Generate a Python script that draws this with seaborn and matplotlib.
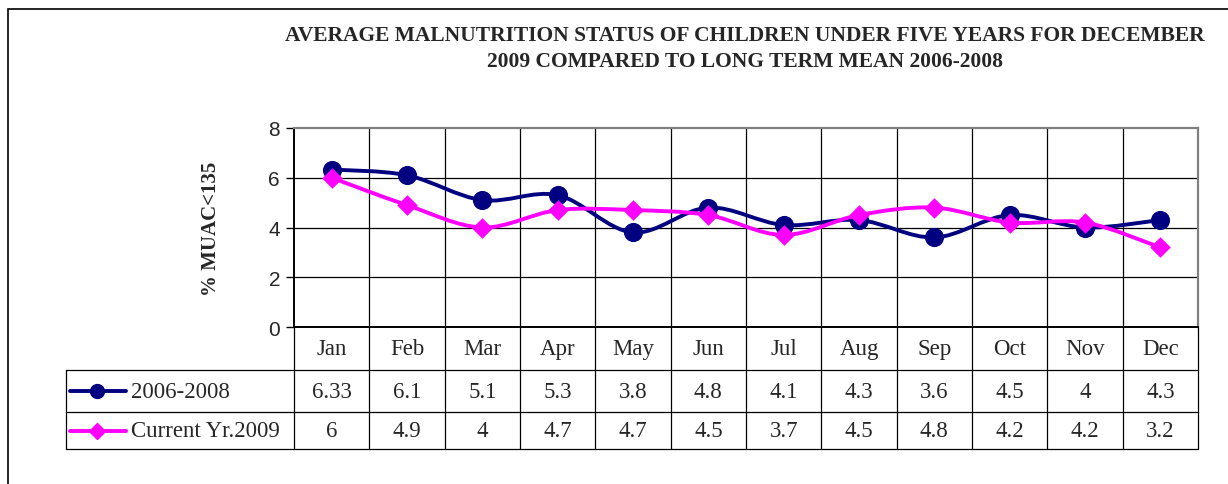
import numpy as np
import pandas as pd
import matplotlib
matplotlib.use("Agg")
import matplotlib.pyplot as plt
import seaborn as sns
from matplotlib.path import Path
from matplotlib.patches import PathPatch, Rectangle

months = ["Jan", "Feb", "Mar", "Apr", "May", "Jun", "Jul", "Aug", "Sep", "Oct", "Nov", "Dec"]
long_term = [6.33, 6.1, 5.1, 5.3, 3.8, 4.8, 4.1, 4.3, 3.6, 4.5, 4, 4.3]
current = [6, 4.9, 4, 4.7, 4.7, 4.5, 3.7, 4.5, 4.8, 4.2, 4.2, 3.2]
series_names = ["2006-2008", "Current Yr.2009"]
long_term_labels = ["6.33", "6.1", "5.1", "5.3", "3.8", "4.8", "4.1", "4.3", "3.6", "4.5", "4", "4.3"]
current_labels = ["6", "4.9", "4", "4.7", "4.7", "4.5", "3.7", "4.5", "4.8", "4.2", "4.2", "3.2"]
yticks = [0, 2, 4, 6, 8]
title = ("AVERAGE MALNUTRITION STATUS OF CHILDREN UNDER FIVE YEARS FOR DECEMBER\n"
         "2009 COMPARED TO LONG TERM MEAN 2006-2008")
ylabel = "% MUAC<135"

NAVY = "#000080"
MAGENTA = "#FF00FF"

sns.set_theme(style="white")
plt.rcParams["font.family"] = ["Liberation Serif", "DejaVu Sans"]

W, H = 1228, 485
fig = plt.figure(figsize=(W / 100, H / 100), dpi=100)
fig.patch.set_facecolor("white")


def fx(x):
    return x / W


def fy(y):
    return 1 - y / H


# outer frame
fig.patches.append(Rectangle((fx(8), fy(520)), 1.2, fy(10) - fy(520), transform=fig.transFigure,
                             fill=False, edgecolor="black", linewidth=1.2, zorder=0))

L, R, T, B = 294, 1198, 129, 328
ax = fig.add_axes([fx(L), fy(B), fx(R) - fx(L), fy(T) - fy(B)])
x = np.arange(len(months))
df = pd.DataFrame({
    "month_idx": np.concatenate([x, x]),
    "value": long_term + current,
    "series": [series_names[0]] * len(months) + [series_names[1]] * len(months),
})


def smooth_path(xs, ys):
    pts = np.column_stack([xs, ys]).astype(float)
    verts = [pts[0]]
    codes = [Path.MOVETO]
    n = len(pts)
    for i in range(n - 1):
        p0 = pts[i - 1] if i > 0 else pts[i]
        p1 = pts[i]
        p2 = pts[i + 1]
        p3 = pts[i + 2] if i + 2 < n else pts[i + 1]
        c1 = p1 + (p2 - p0) / 6.0
        c2 = p2 - (p3 - p1) / 6.0
        verts += [c1, c2, p2]
        codes += [Path.CURVE4] * 3
    return Path(verts, codes)


for vals, col, z in [(long_term, NAVY, 3), (current, MAGENTA, 5)]:
    ax.add_patch(PathPatch(smooth_path(x, vals), facecolor="none", edgecolor=col,
                           linewidth=2.8, zorder=z, capstyle="round", joinstyle="round"))

sns.scatterplot(data=df[df["series"] == series_names[0]], x="month_idx", y="value",
                color=NAVY, marker="o", s=190, linewidth=0, ax=ax, legend=False, zorder=4)
sns.scatterplot(data=df[df["series"] == series_names[1]], x="month_idx", y="value",
                color=MAGENTA, marker="D", s=110, linewidth=0, ax=ax, legend=False, zorder=6)

ax.set_xlim(-0.5, 11.5)
ax.set_ylim(0, 8)
ax.set_yticks(yticks)
ax.set_yticklabels([str(t) for t in yticks], fontfamily="Liberation Sans", fontsize=15)
ax.set_xticks([])
ax.set_xlabel("")
ax.set_ylabel(ylabel, fontfamily="Liberation Serif", fontweight="bold", fontsize=15, labelpad=34)
ax.tick_params(axis="y", left=True, length=6, width=1, color="black", pad=4)
for yv in yticks[1:-1]:
    ax.axhline(yv, color="black", linewidth=0.9, zorder=1)
for xv in np.arange(0.5, 11.5, 1):
    ax.axvline(xv, color="black", linewidth=0.9, zorder=1)
for side in ["left", "bottom"]:
    ax.spines[side].set_color("black")
    ax.spines[side].set_linewidth(1.4)
for side in ["top", "right"]:
    ax.spines[side].set_color("#808080")
    ax.spines[side].set_linewidth(1.6)

fig.text(fx(745), fy(49), title, ha="center", va="center", fontsize=15.5, fontweight="bold",
         fontfamily="Liberation Serif", linespacing=1.45)

# table
TL = 66
TB = 450
tax = fig.add_axes([fx(TL), fy(TB), fx(R) - fx(TL), fy(B) - fy(TB)])
px = (R - L) / 12
tleft = -0.5 - (L - TL) / px
row_edges = [0, (371 - B), (413 - B), (TB - B)]
row_mid = [(row_edges[i] + row_edges[i + 1]) / 2 for i in range(3)]
tax.set_xlim(tleft, 11.5)
tax.set_ylim(TB - B, 0)
tax.axis("off")
lw = 0.9
kw = dict(color="black", lw=lw, clip_on=False)
tax.plot([tleft, 11.5], [row_edges[1]] * 2, **kw)
tax.plot([tleft, 11.5], [row_edges[2]] * 2, **kw)
tax.plot([tleft, 11.5], [row_edges[3]] * 2, **kw)
for xv in np.arange(-0.5, 12, 1):
    tax.plot([xv, xv], [0, row_edges[3]], **kw)
tax.plot([tleft, tleft], [row_edges[1], row_edges[3]], **kw)
fs = 16.5
for i, m in enumerate(months):
    tax.text(i, row_mid[0], m, ha="center", va="center", fontsize=fs)
    tax.text(i, row_mid[1], long_term_labels[i], ha="center", va="center", fontsize=fs)
    tax.text(i, row_mid[2], current_labels[i], ha="center", va="center", fontsize=fs)
for row, name, col, mk, ms in [(row_mid[1], series_names[0], NAVY, "o", 10), (row_mid[2], series_names[1], MAGENTA, "D", 8.5)]:
    x0 = tleft + (70 - TL) / px
    x1 = tleft + (126 - TL) / px
    xm = tleft + (97 - TL) / px
    tax.plot([x0, x1], [row, row], color=col, lw=2.8, clip_on=False)
    tax.plot([xm], [row], marker=mk, color=col, ms=ms, mec=col, clip_on=False)
    tax.text(tleft + (131 - TL) / px, row, name, ha="left", va="center", fontsize=fs)

fig.savefig("out.png", dpi=100, facecolor="white")
